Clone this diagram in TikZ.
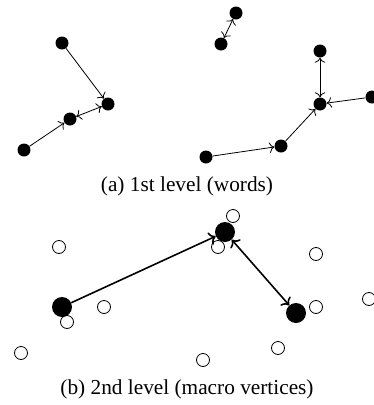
\documentclass[tikz,border=0pt]{standalone}
\usepackage{fontspec}
\setmainfont{Liberation Serif}
\usetikzlibrary{arrows.meta}
\begin{document}
\begin{tikzpicture}[x=1pt,y=-1pt,
  word/.style={circle,fill=black,inner sep=0pt,minimum size=13pt},
  macro/.style={circle,fill=black,inner sep=0pt,minimum size=20pt},
  vtx/.style={circle,draw=black,line width=0.8pt,fill=white,inner sep=0pt,minimum size=13pt},
  wordedge/.style={line width=0.8pt,>={To[scale=1.5]}},
  macroedge/.style={line width=1.6pt,>={To[scale=1.25]}},
  captiontext/.style={anchor=base,font=\fontsize{21.3}{26}\selectfont}]
\useasboundingbox (0,0) rectangle (374,405);

% first level: word vertices
\node[word] (w1)  at (62,43)   {};
\node[word] (w2)  at (108,104) {};
\node[word] (w3)  at (70,119)  {};
\node[word] (w4)  at (24,150)  {};
\node[word] (w5)  at (236,13)  {};
\node[word] (w6)  at (221,44)  {};
\node[word] (w7)  at (320,51)  {};
\node[word] (w8)  at (320,104) {};
\node[word] (w9)  at (372,97)  {};
\node[word] (w10) at (281,146) {};
\node[word] (w11) at (206,157) {};

\draw[wordedge,->]  (w1) -- (w2);
\draw[wordedge,->]  (w4) -- (w3);
\draw[wordedge,<->] (w3) -- (w2);
\draw[wordedge,<->] (w5) -- (w6);
\draw[wordedge,<->] (w7) -- (w8);
\draw[wordedge,->]  (w9) -- (w8);
\draw[wordedge,->]  (w10) -- (w8);
\draw[wordedge,->]  (w11) -- (w10);

\node[captiontext] (capa) at (187,191.5) {(a) 1st level (words)};

% second level: remaining vertices and macro vertices
\node[vtx] (v1)  at (59,247)  {};
\node[vtx] (v2)  at (67,322)  {};
\node[vtx] (v3)  at (104,307) {};
\node[vtx] (v4)  at (21,353)  {};
\node[vtx] (v5)  at (233,216) {};
\node[vtx] (v6)  at (218,247) {};
\node[vtx] (v7)  at (316,254) {};
\node[vtx] (v8)  at (316,307) {};
\node[vtx] (v9)  at (369,299) {};
\node[vtx] (v10) at (278,348) {};
\node[vtx] (v11) at (203,360) {};

\node[macro] (m1) at (62,307)  {};
\node[macro] (m2) at (225,232) {};
\node[macro] (m3) at (296,313) {};

\draw[macroedge,->]  (m1) -- (m2);
\draw[macroedge,<->] (m2) -- (m3);

\node[captiontext] (capb) at (187,394) {(b) 2nd level (macro vertices)};
\end{tikzpicture}
\end{document}
